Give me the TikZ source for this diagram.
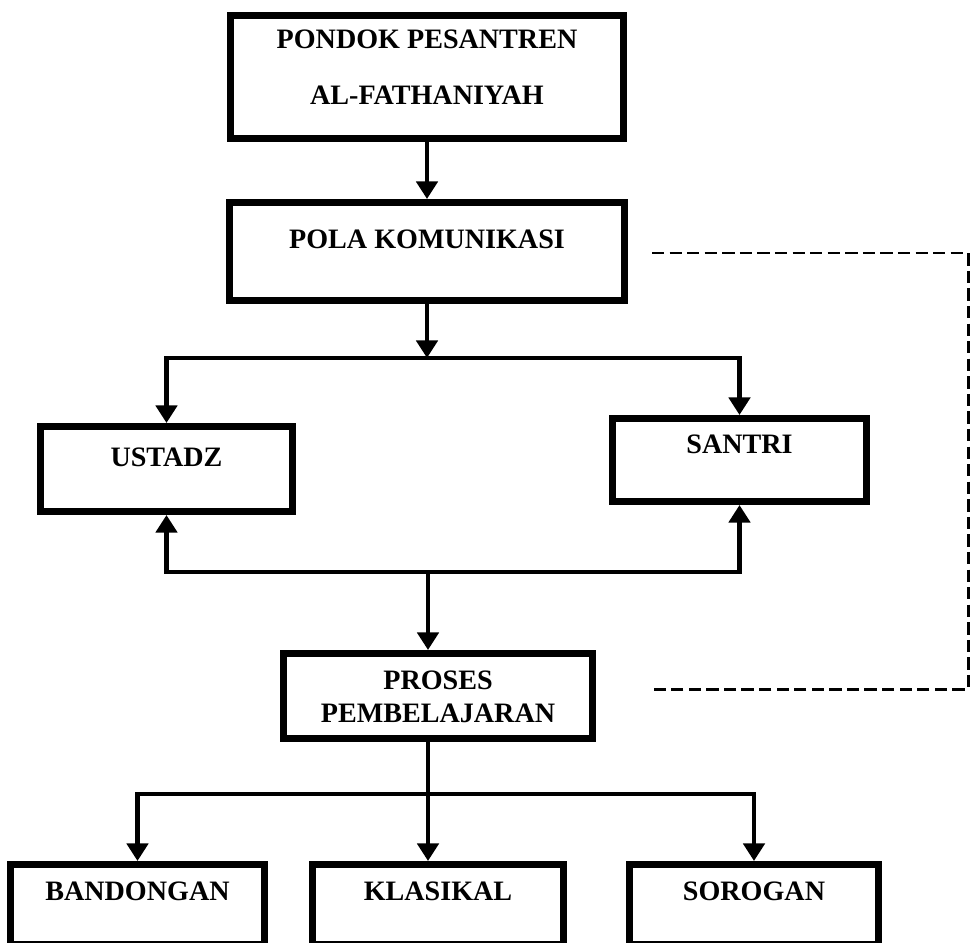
\documentclass[tikz,border=0pt]{standalone}
\usepackage{fontspec}
\setmainfont{Liberation Serif}
\usetikzlibrary{arrows.meta}
\tikzstyle{flowbox}=[draw, line width=4pt, anchor=north, inner sep=0, font=\fontsize{16}{19}\selectfont\bfseries]
\tikzstyle{flowline}=[line width=2.8pt]
\tikzstyle{flowarrow}=[flowline, -{Triangle[length=10pt,width=12pt]}]
\tikzstyle{feedback}=[line width=1.7pt, dash pattern=on 7pt off 3pt]
\newcommand{\flowbox}[6]{\node[flowbox, minimum width=#3, text height=#4, text depth=#5] (#1) at (#2) {#6};}

\begin{document}
\begin{tikzpicture}[x=0.02cm, y=-0.02cm]
\useasboundingbox (0,0) rectangle (974,943);

\flowbox{pondok}{427,12}{7.86cm}{0.66cm}{1.80cm}{\begin{tabular}[t]{@{}c@{}}PONDOK PESANTREN\\[13pt] AL-FATHANIYAH\end{tabular}}
\flowbox{pola}{427,199}{7.92cm}{0.92cm}{1.04cm}{POLA KOMUNIKASI}
\flowbox{ustadz}{166.5,423}{5.06cm}{0.8cm}{0.9cm}{USTADZ}
\flowbox{santri}{739.5,415}{5.1cm}{0.7cm}{0.96cm}{SANTRI}
\flowbox{proses}{438,650}{6.2cm}{0.72cm}{0.98cm}{\begin{tabular}[t]{@{}c@{}}PROSES\\ PEMBELAJARAN\end{tabular}}
\flowbox{bandongan}{137.5,861}{5.1cm}{0.72cm}{0.88cm}{BANDONGAN}
\flowbox{klasikal}{438,861}{5.04cm}{0.72cm}{0.88cm}{KLASIKAL}
\flowbox{sorogan}{754,861}{5.0cm}{0.72cm}{0.88cm}{SOROGAN}

\coordinate (busA) at (427,358);
\coordinate (busB) at (428,572);
\coordinate (busC) at (428,794);
\coordinate (fbA) at (652,253);
\coordinate (fbB) at (652,689);

\draw[flowarrow] (pondok) -- (pola);
\draw[flowarrow] (pola) -- (busA);
\draw[flowarrow] (busA) -| (ustadz);
\draw[flowarrow] (busA) -| (santri);
\draw[flowarrow] (busB) -| (ustadz);
\draw[flowarrow] (busB) -| (santri);
\draw[flowarrow] (busB) -- (busB |- proses.north);
\draw[flowline] (busB |- proses.south) -- (busC);
\draw[flowarrow] (busC) -| (bandongan);
\draw[flowarrow] (busC) -| (sorogan);
\draw[flowarrow] (busC) -- (busC |- klasikal.north);
\draw[feedback] (fbA) -- ++(316,0) |- (fbB);
\end{tikzpicture}
\end{document}
